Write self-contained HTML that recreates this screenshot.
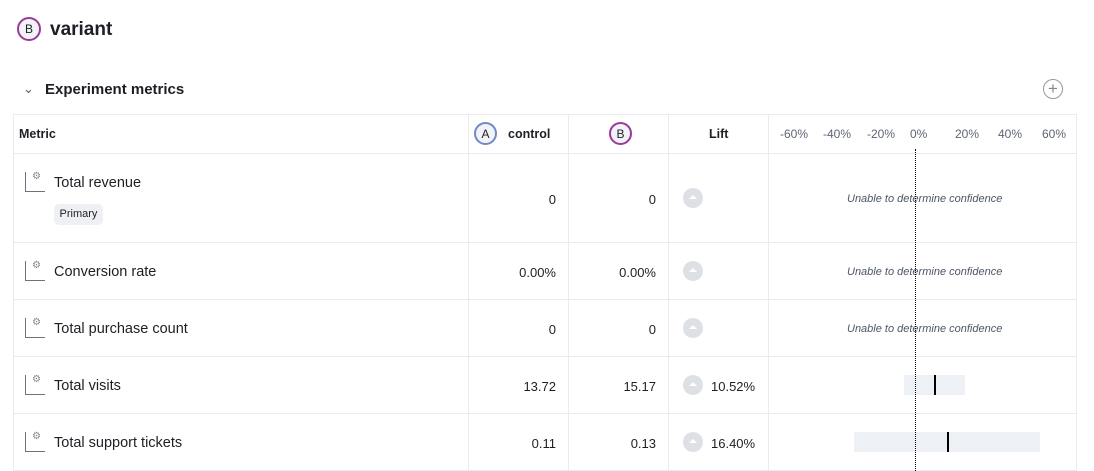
<!DOCTYPE html>
<html><head><meta charset="utf-8"><style>
*{margin:0;padding:0;box-sizing:border-box}
body{width:1094px;height:471px;background:#fff;font-family:"Liberation Sans",sans-serif;color:#1d1f24;position:relative;overflow:hidden}
.a{position:absolute}
.circ{position:absolute;border-radius:50%;border:2px solid;display:flex;align-items:center;justify-content:center;font-size:12px;background:#f3f2f8}
.hl{position:absolute;height:1px;background:#e9ebf0}
.vl{position:absolute;width:1px;background:#e9ebf0}
.t{position:absolute;font-size:14.5px;white-space:nowrap}
.r{position:absolute;font-size:13px;text-align:right;white-space:nowrap}
.ic{position:absolute;width:20px;height:20px;border-radius:50%;background:#dde1e6}
.ic:after{content:"";position:absolute;left:6px;top:7px;border-left:4px solid transparent;border-right:4px solid transparent;border-bottom:4px solid #fff}
.unable{position:absolute;font-size:11px;font-style:italic;color:#4c5566;white-space:nowrap}
.tk{position:absolute;top:127px;font-size:12px;color:#5e6573}
.mi{position:absolute;width:20px;height:20px;border-left:1px solid #6b7280;border-bottom:1px solid #6b7280}
.gear{position:absolute;font-size:10px;color:#888}
</style></head><body>
<div class="circ" style="left:17px;top:17px;width:24px;height:24px;border-color:#9b3a96">B</div>
<div class="a" style="left:50px;top:19px;font-size:19px;font-weight:bold">variant</div>
<div class="a" style="left:23px;top:81px;font-size:13px;color:#666">&#8964;</div>
<div class="a" style="left:45px;top:81px;font-size:15px;font-weight:bold">Experiment metrics</div>
<div class="a" style="left:1043px;top:79px;width:20px;height:20px;border:1px solid #999;border-radius:50%;text-align:center;line-height:17px;color:#888;font-size:17px">+</div>

<div class="hl" style="left:14px;width:1062px;top:114px"></div>
<div class="hl" style="left:14px;width:1062px;top:153px"></div>
<div class="hl" style="left:14px;width:1062px;top:242px"></div>
<div class="hl" style="left:14px;width:1062px;top:299px"></div>
<div class="hl" style="left:14px;width:1062px;top:356px"></div>
<div class="hl" style="left:14px;width:1062px;top:413px"></div>
<div class="hl" style="left:14px;width:1062px;top:470px"></div>
<div class="vl" style="left:13px;top:114px;height:357px"></div>
<div class="vl" style="left:468px;top:114px;height:357px"></div>
<div class="vl" style="left:568px;top:114px;height:357px"></div>
<div class="vl" style="left:668px;top:114px;height:357px"></div>
<div class="vl" style="left:768px;top:114px;height:357px"></div>
<div class="vl" style="left:1076px;top:114px;height:357px"></div>

<div class="a" style="left:19px;top:127px;font-size:12.5px;font-weight:bold">Metric</div>
<div class="circ" style="left:474px;top:122px;width:23px;height:23px;border-color:#6f8bc4">A</div>
<div class="a" style="left:508px;top:127px;font-size:12.5px;font-weight:bold">control</div>
<div class="circ" style="left:609px;top:122px;width:23px;height:23px;border-color:#9b3a96">B</div>
<div class="a" style="left:709px;top:127px;font-size:12.5px;font-weight:bold">Lift</div>
<div class="tk" style="left:780px">-60%</div>
<div class="tk" style="left:823px">-40%</div>
<div class="tk" style="left:867px">-20%</div>
<div class="tk" style="left:910px">0%</div>
<div class="tk" style="left:955px">20%</div>
<div class="tk" style="left:998px">40%</div>
<div class="tk" style="left:1042px">60%</div>

<!-- rows -->
<div class="mi" style="left:25px;top:172px"></div><div class="gear" style="left:32px;top:171px">⚙</div>
<div class="t" style="left:54px;top:175px">Total revenue</div>
<div class="a" style="left:54px;top:204px;width:49px;height:21px;background:#eef0f4;border-radius:5px;font-size:11px;line-height:21px;text-align:center">Primary</div>
<div class="r" style="right:538px;top:192px">0</div>
<div class="r" style="right:438px;top:192px">0</div>
<div class="ic" style="left:683px;top:188px"></div>
<div class="unable" style="left:847px;top:193px">Unable to determine confidence</div>

<div class="mi" style="left:25px;top:261px"></div><div class="gear" style="left:32px;top:260px">⚙</div>
<div class="t" style="left:54px;top:264px">Conversion rate</div>
<div class="r" style="right:538px;top:265px">0.00%</div>
<div class="r" style="right:438px;top:265px">0.00%</div>
<div class="ic" style="left:683px;top:261px"></div>
<div class="unable" style="left:847px;top:266px">Unable to determine confidence</div>

<div class="mi" style="left:25px;top:318px"></div><div class="gear" style="left:32px;top:317px">⚙</div>
<div class="t" style="left:54px;top:321px">Total purchase count</div>
<div class="r" style="right:538px;top:322px">0</div>
<div class="r" style="right:438px;top:322px">0</div>
<div class="ic" style="left:683px;top:318px"></div>
<div class="unable" style="left:847px;top:323px">Unable to determine confidence</div>

<div class="mi" style="left:25px;top:375px"></div><div class="gear" style="left:32px;top:374px">⚙</div>
<div class="t" style="left:54px;top:378px">Total visits</div>
<div class="r" style="right:538px;top:379px">13.72</div>
<div class="r" style="right:438px;top:379px">15.17</div>
<div class="ic" style="left:683px;top:375px"></div>
<div class="a" style="left:711px;top:379px;font-size:13px">10.52%</div>
<div class="a" style="left:904px;top:375px;width:61px;height:20px;background:#edf0f4"></div>
<div class="a" style="left:934px;top:375px;width:2px;height:20px;background:#000"></div>

<div class="mi" style="left:25px;top:432px"></div><div class="gear" style="left:32px;top:431px">⚙</div>
<div class="t" style="left:54px;top:435px">Total support tickets</div>
<div class="r" style="right:538px;top:436px">0.11</div>
<div class="r" style="right:438px;top:436px">0.13</div>
<div class="ic" style="left:683px;top:432px"></div>
<div class="a" style="left:711px;top:436px;font-size:13px">16.40%</div>
<div class="a" style="left:854px;top:432px;width:186px;height:20px;background:#edf0f4"></div>
<div class="a" style="left:947px;top:432px;width:2px;height:20px;background:#000"></div>
<div class="a" style="left:915px;top:149px;height:322px;border-left:1px dotted #000"></div>
</body></html>
